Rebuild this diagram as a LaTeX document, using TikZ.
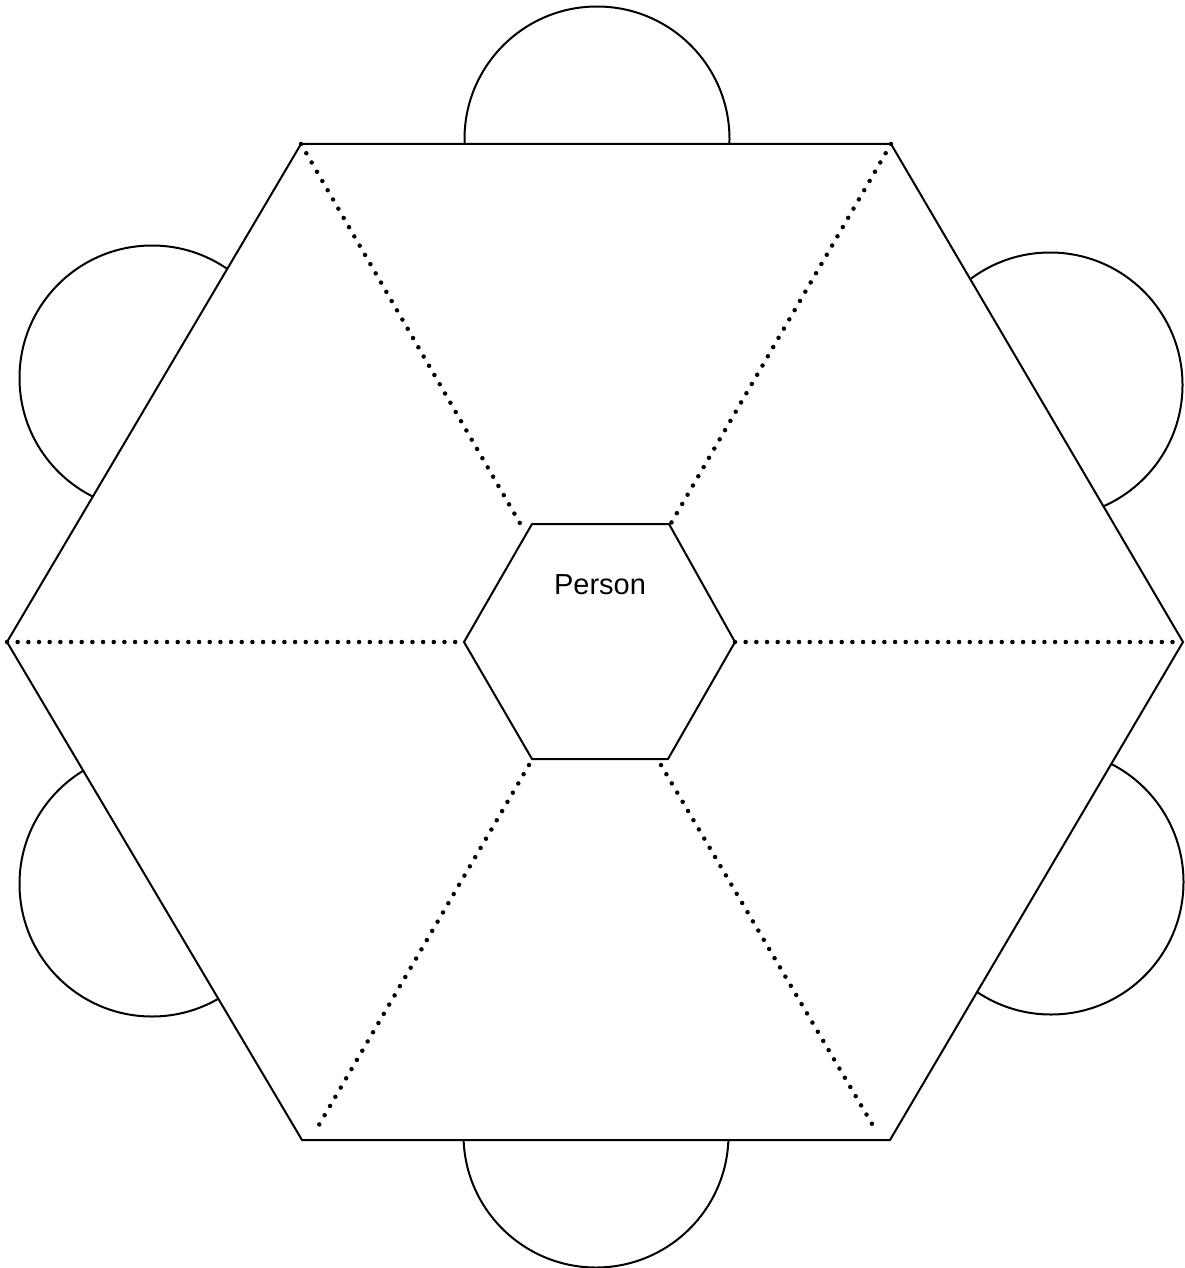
\documentclass[tikz,border=0pt]{standalone}
\usepackage{fontspec}
\setmainfont{Liberation Sans}
\begin{document}
\begin{tikzpicture}[x=1pt,y=-1pt,
  solidline/.style={line width=2pt, line join=miter},
  dotline/.style={line width=4.5pt, line cap=round, dash pattern=on 0pt off 10.67pt},
  seat/.style={line width=2pt}]
\useasboundingbox (0,0) rectangle (1184,1268);
% outer hexagon vertices
\coordinate (o1) at (301,144);
\coordinate (o2) at (891,144);
\coordinate (o3) at (1183,642);
\coordinate (o4) at (890,1140);
\coordinate (o5) at (302,1140);
\coordinate (o6) at (7,642);
% inner hexagon vertices
\coordinate (i1) at (532,524);
\coordinate (i2) at (669,524);
\coordinate (i3) at (735,642);
\coordinate (i4) at (668,759);
\coordinate (i5) at (532,759);
\coordinate (i6) at (464,642);
% dotted line ends
\coordinate (tl) at (521,525);
\coordinate (tr) at (670,525);
\coordinate (ll) at (458,642);
\coordinate (bls) at (529,765);
\coordinate (ble) at (316,1130);
\coordinate (brs) at (661,765);
\coordinate (bre) at (875,1129);
% seat centres
\coordinate (s1) at (597,139);
\coordinate (s2) at (1050,385);
\coordinate (s3) at (1051,882);
\coordinate (s4) at (596,1135);
\coordinate (s5) at (152,884);
\coordinate (s6) at (152,378);
% seats
\foreach \s in {s1,s2,s3,s4,s5,s6}
  \draw[seat] (\s) circle[radius=132.5pt];
% table
\draw[solidline, fill=white] (o1) -- (o2) -- (o3) -- (o4) -- (o5) -- (o6) -- cycle;
% dotted dividers
\draw[dotline] (o1) -- (tl);
\draw[dotline] (o2) -- (tr);
\draw[dotline] (o6) -- (ll);
\draw[dotline] (i3) -- (o3);
\draw[dotline] (bls) -- (ble);
\draw[dotline] (brs) -- (bre);
% inner hexagon
\draw[solidline] (i1) -- (i2) -- (i3) -- (i4) -- (i5) -- (i6) -- cycle;
\node[anchor=base, inner sep=0pt, font=\fontsize{29}{34}\selectfont] (person) at (600,594) {Person};
\end{tikzpicture}
\end{document}
